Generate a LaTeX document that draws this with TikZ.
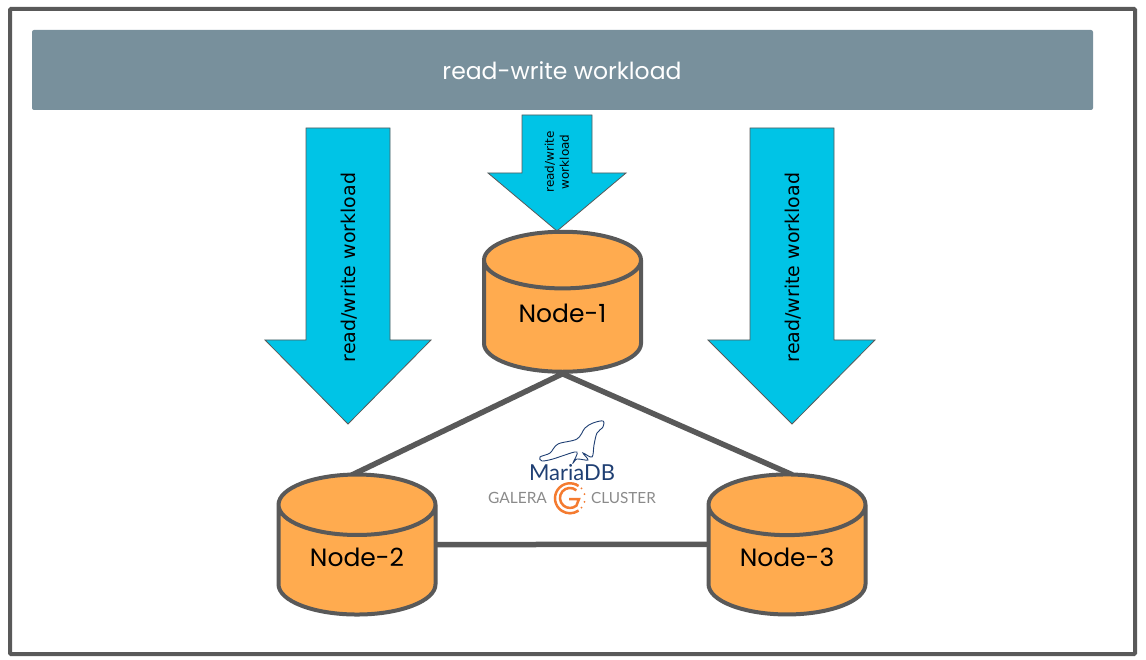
\documentclass[tikz,border=0pt]{standalone}
\usepackage{fontspec}
\setmainfont{Poppins}
\newfontfamily\labelfont{DejaVu Sans}
\newfontfamily\logofont{Lato}
\usetikzlibrary{positioning,shapes.geometric,backgrounds}
\definecolor{framegray}{HTML}{595959}
\definecolor{bargray}{HTML}{78909C}
\definecolor{flowcyan}{HTML}{00C4E6}
\definecolor{dborange}{HTML}{FFAB4F}
\definecolor{logonavy}{HTML}{1F3F73}
\definecolor{logogray}{HTML}{8A8A8A}
\definecolor{logoorange}{HTML}{F47B30}
\newcommand{\dbtext}[1]{\raisebox{8pt}[\height][\depth]{#1}}
\tikzset{
  dbnode/.style={cylinder, shape border rotate=90, draw=framegray, line width=4pt,
    cylinder uses custom fill, cylinder body fill=dborange, cylinder end fill=dborange,
    minimum width=157pt, minimum height=140pt, aspect=0.6, font=\fontsize{25}{25}\selectfont},
  flowarrow/.style={draw=framegray, line width=0.8pt, fill=flowcyan},
  flowlabel/.style={font=\labelfont\fontsize{19}{21}\selectfont, rotate=90, align=center},
  link/.style={draw=framegray, line width=5.5pt, shorten <=-6pt, shorten >=-6pt}
}

\begin{document}
\begin{tikzpicture}[x=1pt, y=-1pt]
\useasboundingbox (0,0) rectangle (1146,660);

% Outer frame and workload bar
\draw[framegray, line width=4pt, rounded corners=1pt] (10,9) rectangle (1135,654);
\fill[bargray, rounded corners=2pt] (32,30) rectangle (1093,110);
\node[text=white, font=\fontsize{23.5}{24}\selectfont] (workload) at (562,71) {read-write workload};

% Block arrows
\draw[flowarrow] (306,128) -- (390,128) -- (390,340) -- (431,340) -- (348,424) -- (265,340) -- (306,340) -- cycle;
\node[flowlabel] (leftlabel) at (349,267.5) {read/write workload};
\draw[flowarrow] (522,115) -- (592,115) -- (592,173) -- (626,173) -- (557,231) -- (488,173) -- (522,173) -- cycle;
\node[flowlabel, font=\labelfont\fontsize{12}{15}\selectfont] (middlelabel) at (557,162) {read/write\\workload};
\draw[flowarrow] (750,128) -- (834,128) -- (834,340) -- (875,340) -- (792,424) -- (708,340) -- (750,340) -- cycle;
\node[flowlabel] (rightlabel) at (793,267.5) {read/write workload};

% Database nodes
\node[dbnode] (node1) at (562.5,321) {\dbtext{Node-1}};
\node[dbnode] (node2) at (357,565) {\dbtext{Node-2}};
\node[dbnode] (node3) at (787,565) {\dbtext{Node-3}};

% Links
\begin{scope}[on background layer]
\draw[link] (node1.south) -- (node2.north);
\draw[link] (node1.south) -- (node3.north);
\draw[link] (node2.east |- node2.shape center) -- (node3.west |- node3.shape center);
\end{scope}

% Logo
\draw[logonavy, line width=0.9pt, fill=white] plot[smooth cycle, tension=0.55] coordinates {
  (540,457) (550,453) (558,444) (577,439) (585,428) (593,423) (603,421) (603,427) (597,433)
  (594,445) (592,457) (583,453) (588,460) (577,459) (573,463) (577,452) (562,456) (553,459) (542,461)};
\node[text=logonavy, font=\logofont\fontsize{22}{22}\selectfont] (mariadb) at (572,473) {MariaDB};
\node[text=logogray, font=\logofont\fontsize{15.5}{16}\selectfont] (galera) at (517.5,498) {GALERA};
\node[text=logogray, font=\logofont\fontsize{15.3}{16}\selectfont] (cluster) at (623.5,498) {CLUSTER};
\draw[logoorange, line width=2.5pt] (578.6,486) arc[start angle=55, end angle=305, radius=15pt];
\draw[logoorange, line width=2.5pt] (576.4,490.3) arc[start angle=50, end angle=310, radius=10pt] -- (579,499) -- (569,499);
\foreach \ang in {65,40,15,-15,-40,-65}
  \fill[logoorange] (570,498) ++(\ang:15pt) circle (1.1pt);
\end{tikzpicture}
\end{document}
